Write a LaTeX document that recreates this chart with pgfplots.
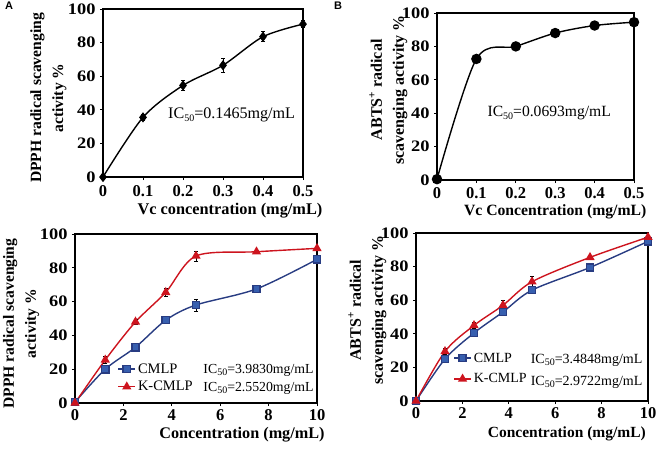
\documentclass[border=0pt]{standalone}
\usepackage{fontspec}
\setmainfont{Liberation Serif}
\newfontfamily\wideserif{Liberation Serif}[FakeStretch=1.15]
\newfontfamily\sansbold{Liberation Sans}
\usepackage{pgfplots}
\pgfplotsset{compat=1.18}
\definecolor{myred}{RGB}{205,20,30}
\definecolor{mybluel}{RGB}{40,60,130}
\definecolor{mybluem}{RGB}{55,95,175}
\newcommand{\ytickfont}{\wideserif\fontsize{16}{19}\selectfont\bfseries}
\newcommand{\xtickfont}{\fontsize{16.5}{19}\selectfont\bfseries}
\newcommand{\ylabfont}{\fontsize{15.6}{22}\selectfont\bfseries}
\newcommand{\IC}[1]{IC\raisebox{-0.35ex}{\fontsize{10}{10}\selectfont 50}=#1mg/mL}
\pgfplotsset{
  myax/.style={scale only axis, axis line style={line width=1.1pt},
    tick align=outside, major tick length=3pt, major tick style={line width=0.8pt,black},
    xtick pos=bottom, ytick pos=left, ymin=0, ymax=100, ytick={0,20,...,100},
    yticklabel style={font=\ytickfont, xshift=-1pt},
    xticklabel style={font=\xtickfont},
    ylabel style={font=\ylabfont, align=center},
    /pgf/number format/assume math mode=true, clip=false,
    legend style={draw=none, fill=none, inner sep=0pt},
    legend cell align=left,
    error bars/error bar style={line width=0.7pt, black},
    error bars/error mark options={rotate=90, mark size=2pt, line width=0.7pt, black},
  },
}
\begin{document}
\begin{tikzpicture}
\path[use as bounding box] (0,0) rectangle (660pt,448pt);
\node[anchor=north west, inner sep=0pt, font=\sansbold\bfseries\fontsize{11}{12}\selectfont] at (5pt,446pt) {A};
\node[anchor=north west, inner sep=0pt, font=\sansbold\bfseries\fontsize{11}{12}\selectfont] at (334pt,446pt) {B};
% Panel A
\begin{axis}[myax, at={(103pt,271pt)}, anchor=south west, width=200pt, height=168pt,
  xmin=0, xmax=0.5, xtick={0,0.1,0.2,0.3,0.4,0.5}, xticklabels={0,0.1,0.2,0.3,0.4,0.5},
  xticklabel style={yshift=-2pt},
  xlabel={Vc concentration (mg/mL)},
  xlabel style={font=\fontsize{16.3}{19}\selectfont\bfseries, at={(axis description cs:0.635,-0.2)}, anchor=center},
  ylabel={DPPH radical scavenging\\activity \%},
  ylabel style={at={(axis description cs:-0.2725,0.47)}, anchor=center, rotate=0}]
\addplot[black, line width=1.4pt, smooth, mark=diamond*, mark size=4pt, mark options={fill=black},
  error bars/.cd, y dir=both, y explicit] coordinates {
  (0,0) +- (0,0) (0.1,35.5) +- (0,2) (0.2,54.5) +- (0,2.8) (0.3,66.5) +- (0,4) (0.4,83.5) +- (0,3) (0.5,91) +- (0,2)};
\node[anchor=west, inner sep=0pt, font=\fontsize{16.1}{18}\selectfont] at (axis cs:0.1625,37) {\IC{0.1465}};
\end{axis}
% Panel B
\begin{axis}[myax, at={(437pt,268pt)}, anchor=south west, width=197pt, height=167pt,
  xmin=0, xmax=0.5, xtick={0,0.1,0.2,0.3,0.4,0.5}, xticklabels={0,0.1,0.2,0.3,0.4,0.5},
  xticklabel style={yshift=-1pt},
  xlabel={Vc Concentration (mg/mL)},
  xlabel style={font=\fontsize{15.7}{19}\selectfont\bfseries, at={(axis description cs:0.6,-0.19)}, anchor=center},
  ylabel={ABTS\textsuperscript{+} radical\\scavenging activity \%},
  ylabel style={font=\fontsize{16}{22}\selectfont\bfseries, at={(axis description cs:-0.247,0.54)}, anchor=center, rotate=0}]
\addplot[black, line width=1.4pt, smooth, mark=*, mark size=4.5pt, mark options={fill=black}] coordinates {
  (0,0.5) (0.1,72.5) (0.2,80) (0.3,88) (0.4,92.5) (0.5,94.5)};
\node[anchor=west, inner sep=0pt, font=\fontsize{15.6}{18}\selectfont] at (axis cs:0.128,40) {\IC{0.0693}};
\end{axis}
% Panel C
\begin{axis}[myax, at={(75pt,45pt)}, anchor=south west, width=242pt, height=169pt,
  xmin=0, xmax=10, xtick={0,2,...,10},
  xlabel={Concentration (mg/mL)},
  xlabel style={font=\fontsize{16.2}{19}\selectfont\bfseries, at={(axis description cs:0.69,-0.185)}, anchor=center},
  ylabel={DPPH radical scavenging\\activity \%},
  ylabel style={at={(axis description cs:-0.223,0.47)}, anchor=center, rotate=0},
  legend style={font=\fontsize{14.5}{16}\selectfont, at={(axis cs:1.75,24.6)}, anchor=north west, row sep=2.5pt}]
\addplot[mybluel, line width=1.4pt, smooth, mark=square*, mark size=3.6pt, mark options={fill=mybluem, draw=mybluel},
  error bars/.cd, y dir=both, y explicit] coordinates {
  (0,0.5) +- (0,0) (1.25,20) +- (0,1) (2.5,33) +- (0,1.5) (3.75,49) +- (0,1.5) (5,58) +- (0,3.5) (7.5,67.5) +- (0,1.5) (10,85) +- (0,1.5)};
\addlegendentry{CMLP}
\addplot[myred, line width=1.4pt, smooth, mark=triangle*, mark size=4pt, mark options={fill=myred, draw=myred},
  error bars/.cd, y dir=both, y explicit] coordinates {
  (0,0) +- (0,0) (1.25,25.5) +- (0,2) (2.5,48) +- (0,1.5) (3.75,65.5) +- (0,2.5) (5,87) +- (0,3) (7.5,89.5) +- (0,1) (10,91.5) +- (0,1)};
\addlegendentry{K-CMLP}
\node[anchor=west, inner sep=0pt, font=\fontsize{13.8}{16}\selectfont] at (axis cs:5.3,19.5) {\IC{3.9830}};
\node[anchor=west, inner sep=0pt, font=\fontsize{13.8}{16}\selectfont] at (axis cs:5.3,8.9) {\IC{2.5520}};
\end{axis}
% Panel D
\begin{axis}[myax, at={(416pt,47pt)}, anchor=south west, width=232pt, height=168pt,
  xmin=0, xmax=10, xtick={0,2,...,10},
  xlabel={Concentration (mg/mL)},
  xlabel style={font=\fontsize{15.5}{19}\selectfont\bfseries, at={(axis description cs:0.65,-0.196)}, anchor=center},
  ylabel={ABTS\textsuperscript{+} radical\\scavenging activity \%},
  ylabel style={font=\fontsize{16}{22}\selectfont\bfseries, at={(axis description cs:-0.21,0.54)}, anchor=center, rotate=0},
  legend style={font=\fontsize{14}{16}\selectfont, at={(axis cs:1.6,30)}, anchor=north west, row sep=6pt}]
\addplot[mybluel, line width=1.4pt, smooth, mark=square*, mark size=3.6pt, mark options={fill=mybluem, draw=mybluel},
  error bars/.cd, y dir=both, y explicit] coordinates {
  (0,0) +- (0,0) (1.25,25) +- (0,1.5) (2.5,40.5) +- (0,1.5) (3.75,53) +- (0,1.5) (5,66) +- (0,1.5) (7.5,79.5) +- (0,1) (10,95) +- (0,1)};
\addlegendentry{CMLP}
\addplot[myred, line width=1.4pt, smooth, mark=triangle*, mark size=4pt, mark options={fill=myred, draw=myred},
  error bars/.cd, y dir=both, y explicit] coordinates {
  (0,0) +- (0,0) (1.25,29.5) +- (0,2) (2.5,45) +- (0,2) (3.75,57) +- (0,3) (5,71) +- (0,3) (7.5,85.5) +- (0,1) (10,97.5) +- (0,1)};
\addlegendentry{K-CMLP}
\node[anchor=west, inner sep=0pt, font=\fontsize{14}{16}\selectfont] at (axis cs:4.94,24.4) {\IC{3.4848}};
\node[anchor=west, inner sep=0pt, font=\fontsize{14}{16}\selectfont] at (axis cs:4.94,11.3) {\IC{2.9722}};
\end{axis}
\end{tikzpicture}
\end{document}
